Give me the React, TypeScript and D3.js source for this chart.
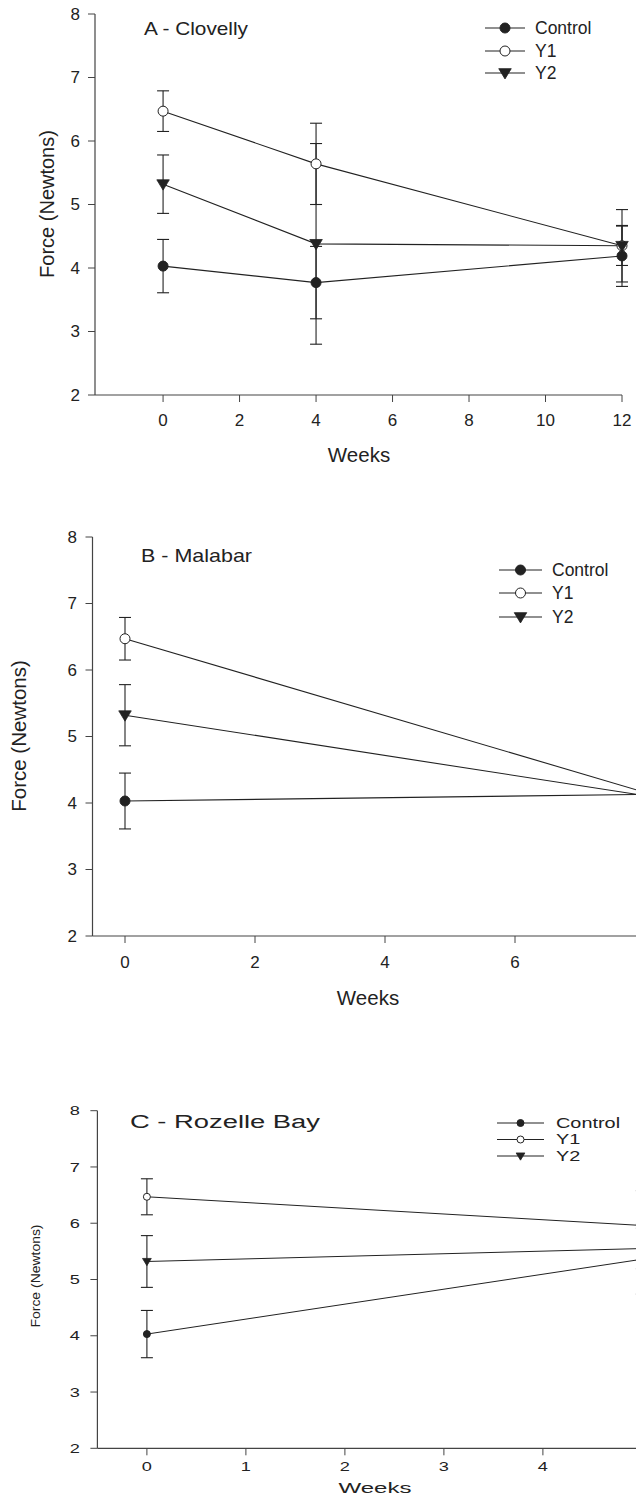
import React from "react";
import * as d3 from "d3";

// ---------- DATA ----------
const seriesNames = ["Control", "Y1", "Y2"];
const yTicks = [2, 3, 4, 5, 6, 7, 8];

// Panel A - Clovelly
const weeksA = [0, 4, 12];
const xTicksA = [0, 2, 4, 6, 8, 10, 12];
const controlA = [4.03, 3.77, 4.19];
const controlErrA = [0.42, 0.57, 0.48];
const y1A = [6.47, 5.64, 4.35];
const y1ErrA = [0.32, 0.64, 0.57];
const y2A = [5.32, 4.38, 4.35];
const y2ErrA = [0.46, 1.58, 0.31];

// Panel B - Malabar
const weeksB = [0, 8];
const xTicksB = [0, 2, 4, 6, 8];
const controlB = [4.03, 4.13];
const controlErrB = [0.42, 0.3];
const y1B = [6.47, 4.16];
const y1ErrB = [0.32, 0.3];
const y2B = [5.32, 4.11];
const y2ErrB = [0.46, 0.3];

// Panel C - Rozelle Bay
const weeksC = [0, 5];
const xTicksC = [0, 1, 2, 3, 4, 5];
const controlC = [4.03, 5.36];
const controlErrC = [0.42, 0.62];
const y1C = [6.47, 5.96];
const y1ErrC = [0.32, 0.62];
const y2C = [5.32, 5.55];
const y2ErrC = [0.46, 0.36];

const INK = "#222";
const FONT = "'Liberation Sans', Arial, sans-serif";
const PAGE_W = 636;

type PanelCfg = {
  title: string;
  weeks: number[];
  xTicks: number[];
  xDomain: [number, number];
  xRange: [number, number];
  yRange: [number, number];
  series: { vals: number[]; errs: number[] }[];
  titlePos: [number, number];
  titleSize: number;
  titleLen?: number;
  legendX: number;
  legendLineW: number;
  legendTextX: number;
  legendRows: number[];
  legendSize: number;
  legendStretch?: number;
  tickSize: number;
  tickLabelX: number;
  tickLabelY: number;
  tickStretch?: number;
  yTitle: [number, number];
  yTitleSize: number;
  yTitleLen?: number;
  xTitle: [number, number];
  xTitleSize: number;
  xTitleLen?: number;
  markR: number;
  capW: number;
  lineW: number;
};

function marker(kind: number, x: number, y: number, r: number, key: string) {
  if (kind === 0) return <circle key={key} cx={x} cy={y} r={r} fill={INK} stroke={INK} strokeWidth={1} />;
  if (kind === 1) return <circle key={key} cx={x} cy={y} r={r} fill="#fff" stroke={INK} strokeWidth={1} />;
  const s = r * 1.25;
  const d = `M${x - s},${y - s * 0.7}L${x + s},${y - s * 0.7}L${x},${y + s * 0.95}Z`;
  return <path key={key} d={d} fill={INK} stroke={INK} strokeWidth={0.8} />;
}

function hStretch(cx: number, k?: number) {
  return k ? { transform: `translate(${cx},0) scale(${k},1) translate(${-cx},0)` } : {};
}

function Panel({ c }: { c: PanelCfg }) {
  const x = d3.scaleLinear().domain(c.xDomain).range(c.xRange);
  const y = d3.scaleLinear().domain([2, 8]).range(c.yRange);
  const line = d3.line<number>().x((_, i) => x(c.weeks[i])).y((v) => y(v));
  const x0 = c.xRange[0];
  const yb = c.yRange[0];
  const stretch = (len?: number) => (len ? { textLength: len, lengthAdjust: "spacingAndGlyphs" as const } : {});
  return (
    <g fontFamily={FONT} fill={INK}>
      <line x1={x0} x2={x0} y1={y(8)} y2={yb} stroke="#444" strokeWidth={1.2} />
      <line x1={x0} x2={c.xRange[1]} y1={yb} y2={yb} stroke="#444" strokeWidth={1.2} />
      {yTicks.map((t) => (
        <g key={"yt" + t}>
          <line x1={x0 - 7} x2={x0} y1={y(t)} y2={y(t)} stroke="#444" strokeWidth={1} />
          <text x={c.tickLabelX} y={y(t)} dy="0.35em" textAnchor="end" fontSize={c.tickSize} {...hStretch(c.tickLabelX, c.tickStretch)}>
            {t}
          </text>
        </g>
      ))}
      {c.xTicks.map((t) => (
        <g key={"xt" + t}>
          <line x1={x(t)} x2={x(t)} y1={yb} y2={yb + 7} stroke="#444" strokeWidth={1} />
          {x(t) < PAGE_W - 8 && (
            <text x={x(t)} y={c.tickLabelY} dy="0.35em" textAnchor="middle" fontSize={c.tickSize} {...hStretch(x(t), c.tickStretch)}>
              {t}
            </text>
          )}
        </g>
      ))}
      <text x={c.titlePos[0]} y={c.titlePos[1]} fontSize={c.titleSize} {...stretch(c.titleLen)}>{c.title}</text>
      <text transform={`translate(${c.yTitle[0]},${c.yTitle[1]}) rotate(-90)`} textAnchor="middle" dy="0.35em"
        fontSize={c.yTitleSize} {...stretch(c.yTitleLen)}>Force (Newtons)</text>
      <text x={c.xTitle[0]} y={c.xTitle[1]} dy="0.35em" textAnchor="middle" fontSize={c.xTitleSize} {...stretch(c.xTitleLen)}>Weeks</text>
      {c.series.map((s, k) => (
        <g key={"s" + k}>
          {s.vals.map((v, i) => (
            <g key={"e" + i} stroke={INK} strokeWidth={1.1}>
              <line x1={x(c.weeks[i])} x2={x(c.weeks[i])} y1={y(v - s.errs[i])} y2={y(v + s.errs[i])} />
              <line x1={x(c.weeks[i]) - c.capW} x2={x(c.weeks[i]) + c.capW} y1={y(v - s.errs[i])} y2={y(v - s.errs[i])} />
              <line x1={x(c.weeks[i]) - c.capW} x2={x(c.weeks[i]) + c.capW} y1={y(v + s.errs[i])} y2={y(v + s.errs[i])} />
            </g>
          ))}
          <path d={line(s.vals) || ""} fill="none" stroke={INK} strokeWidth={c.lineW} />
        </g>
      ))}
      {c.series.map((s, k) => (
        <g key={"m" + k}>{s.vals.map((v, i) => marker(k, x(c.weeks[i]), y(v), c.markR, "mk" + i))}</g>
      ))}
      {seriesNames.map((n, k) => (
        <g key={"lg" + k}>
          <line x1={c.legendX} x2={c.legendX + c.legendLineW} y1={c.legendRows[k]} y2={c.legendRows[k]} stroke={INK} strokeWidth={1.1} />
          {marker(k, c.legendX + c.legendLineW / 2, c.legendRows[k], c.markR, "lm" + k)}
          <text x={c.legendTextX} y={c.legendRows[k]} dy="0.35em" fontSize={c.legendSize} {...hStretch(c.legendTextX, c.legendStretch)}>{n}</text>
        </g>
      ))}
    </g>
  );
}

const panelA: PanelCfg = {
  title: "A - Clovelly",
  weeks: weeksA,
  xTicks: xTicksA,
  xDomain: [-1.78, 12],
  xRange: [95, 622],
  yRange: [395, 14],
  series: [
    { vals: controlA, errs: controlErrA },
    { vals: y1A, errs: y1ErrA },
    { vals: y2A, errs: y2ErrA },
  ],
  titlePos: [144, 35],
  titleSize: 18.5,
  titleLen: 104,
  legendX: 485,
  legendLineW: 40,
  legendTextX: 535,
  legendRows: [28, 51, 73],
  legendSize: 17.5,
  tickSize: 17,
  tickLabelX: 80,
  tickLabelY: 420,
  yTitle: [47, 204],
  yTitleSize: 20,
  xTitle: [359, 455],
  xTitleSize: 20.5,
  markR: 5,
  capW: 6,
  lineW: 1.1,
};

const panelB: PanelCfg = {
  title: "B - Malabar",
  weeks: weeksB,
  xTicks: xTicksB,
  xDomain: [-0.5, 8],
  xRange: [92.5, 645],
  yRange: [936, 537],
  series: [
    { vals: controlB, errs: controlErrB },
    { vals: y1B, errs: y1ErrB },
    { vals: y2B, errs: y2ErrB },
  ],
  titlePos: [141, 562],
  titleSize: 19,
  titleLen: 111,
  legendX: 499,
  legendLineW: 43,
  legendTextX: 552,
  legendRows: [570, 593, 617],
  legendSize: 17.5,
  tickSize: 17,
  tickLabelX: 77,
  tickLabelY: 962,
  yTitle: [18.5, 736],
  yTitleSize: 20.5,
  xTitle: [368, 998],
  xTitleSize: 20.5,
  markR: 5,
  capW: 6,
  lineW: 1.1,
};

const panelC: PanelCfg = {
  title: "C - Rozelle Bay",
  weeks: weeksC,
  xTicks: xTicksC,
  xDomain: [-0.5, 5],
  xRange: [97.4, 641.9],
  yRange: [1448.3, 1110.7],
  series: [
    { vals: controlC, errs: controlErrC },
    { vals: y1C, errs: y1ErrC },
    { vals: y2C, errs: y2ErrC },
  ],
  titlePos: [130, 1128],
  titleSize: 18,
  titleLen: 190,
  legendX: 497,
  legendLineW: 47,
  legendTextX: 556,
  legendRows: [1123, 1139.5, 1156],
  legendSize: 14,
  legendStretch: 1.42,
  tickSize: 13,
  tickLabelX: 80,
  tickLabelY: 1466,
  tickStretch: 1.4,
  yTitle: [35, 1276],
  yTitleSize: 13.5,
  yTitleLen: 103,
  xTitle: [375, 1488],
  xTitleSize: 15,
  xTitleLen: 73,
  markR: 3.5,
  capW: 6,
  lineW: 1,
};

export default function App() {
  return (
    <svg width={636} height={1498} style={{ position: "absolute", left: 0, top: 0, background: "#fff" }}>
      <rect width={636} height={1498} fill="#fff" />
      <Panel c={panelA} />
      <Panel c={panelB} />
      <Panel c={panelC} />
    </svg>
  );
}
